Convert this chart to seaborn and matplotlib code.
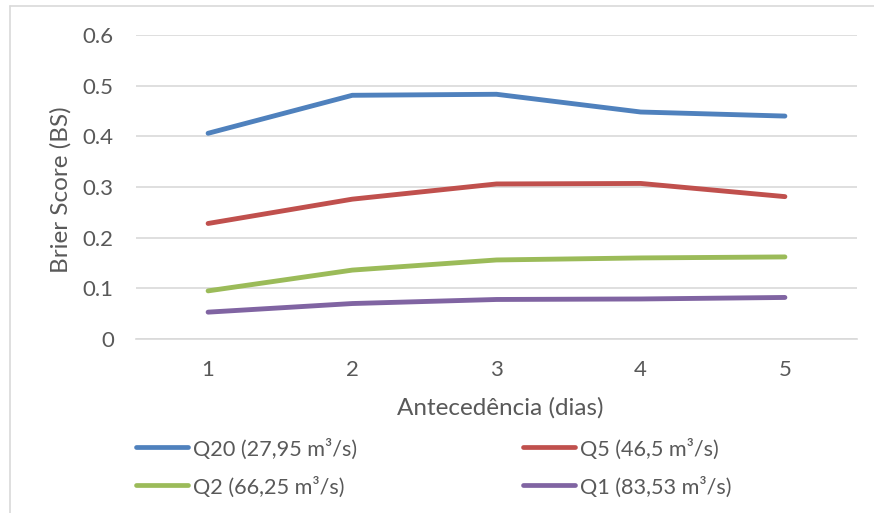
import matplotlib
matplotlib.use("Agg")
import matplotlib.pyplot as plt
from matplotlib.lines import Line2D
import seaborn as sns
import pandas as pd

lead_days = [1, 2, 3, 4, 5]
series_names = ["Q20 (27,95 m³/s)", "Q5 (46,5 m³/s)", "Q2 (66,25 m³/s)", "Q1 (83,53 m³/s)"]
q20 = [0.406, 0.481, 0.483, 0.448, 0.440]
q5 = [0.228, 0.276, 0.306, 0.307, 0.281]
q2 = [0.095, 0.136, 0.156, 0.160, 0.162]
q1 = [0.053, 0.070, 0.078, 0.079, 0.082]
colors = ["#4F81BD", "#C0504D", "#9BBB59", "#8064A2"]
y_ticks = [0, 0.1, 0.2, 0.3, 0.4, 0.5, 0.6]
y_tick_labels = ["0", "0.1", "0.2", "0.3", "0.4", "0.5", "0.6"]

rows = []
for name, vals in zip(series_names, [q20, q5, q2, q1]):
    for d, v in zip(lead_days, vals):
        rows.append({"dias": d, "BS": v, "serie": name})
df = pd.DataFrame(rows)

sns.set_theme(style="white")
plt.rcParams["font.family"] = ["Lato", "DejaVu Sans"]
text_color = "#595959"
W, H = 874, 513
ax_l, ax_r, ax_t, ax_b = 136, 857, 35, 339

fig = plt.figure(figsize=(W / 100, H / 100), dpi=100)
ax = fig.add_axes([ax_l / W, 1 - ax_b / H, (ax_r - ax_l) / W, (ax_b - ax_t) / H])

sns.lineplot(data=df, x="dias", y="BS", hue="serie", hue_order=series_names,
             palette=colors, linewidth=3.5, ax=ax, legend=False,
             solid_capstyle="round", solid_joinstyle="round")

ax.set_xlim(0.5, 5.5)
ax.set_ylim(0, 0.6)
ax.set_xticks(lead_days)
ax.set_xticklabels([str(d) for d in lead_days])
ax.set_yticks(y_ticks)
ax.set_yticklabels(y_tick_labels)
ax.yaxis.grid(True, color="#D9D9D9", linewidth=1.2)
ax.set_axisbelow(True)
for s in ["top", "right", "left"]:
    ax.spines[s].set_visible(False)
ax.spines["bottom"].set_color("#D9D9D9")
ax.spines["bottom"].set_linewidth(1.2)
ax.tick_params(axis="both", length=0, labelsize=16, colors=text_color)
ax.tick_params(axis="y", pad=16)
ax.tick_params(axis="x", pad=15)
ax.set_xlabel("Antecedência (dias)", fontsize=17.5, color=text_color)
ax.set_ylabel("Brier Score (BS)", fontsize=17.5, color=text_color)
pw, ph = ax_r - ax_l, ax_b - ax_t
ax.xaxis.set_label_coords((500 - ax_l) / pw, (ax_b - 397) / ph)
ax.yaxis.set_label_coords((72 - ax_l) / pw, (ax_b - 190) / ph)

# legend: two rows of two entries
legend_slots = [(134, 447), (521, 447), (134, 485), (521, 485)]
for (lx, ly), name, c in zip(legend_slots, series_names, colors):
    fig.add_artist(Line2D([(lx + 2) / W, (lx + 54) / W], [1 - ly / H, 1 - ly / H],
                          color=c, linewidth=3.4, solid_capstyle="round",
                          transform=fig.transFigure))
    fig.text((lx + 59) / W, 1 - ly / H, name, fontsize=15.6, color=text_color,
             ha="left", va="center_baseline")

# chart frame
fig.add_artist(Line2D([10 / W, 10 / W], [0, 1 - 6 / H], color="#D9D9D9",
                      linewidth=1.2, transform=fig.transFigure))
fig.add_artist(Line2D([10 / W, 1], [1 - 6 / H, 1 - 6 / H], color="#D9D9D9",
                      linewidth=1.2, transform=fig.transFigure))

fig.savefig("out.png", dpi=100)
